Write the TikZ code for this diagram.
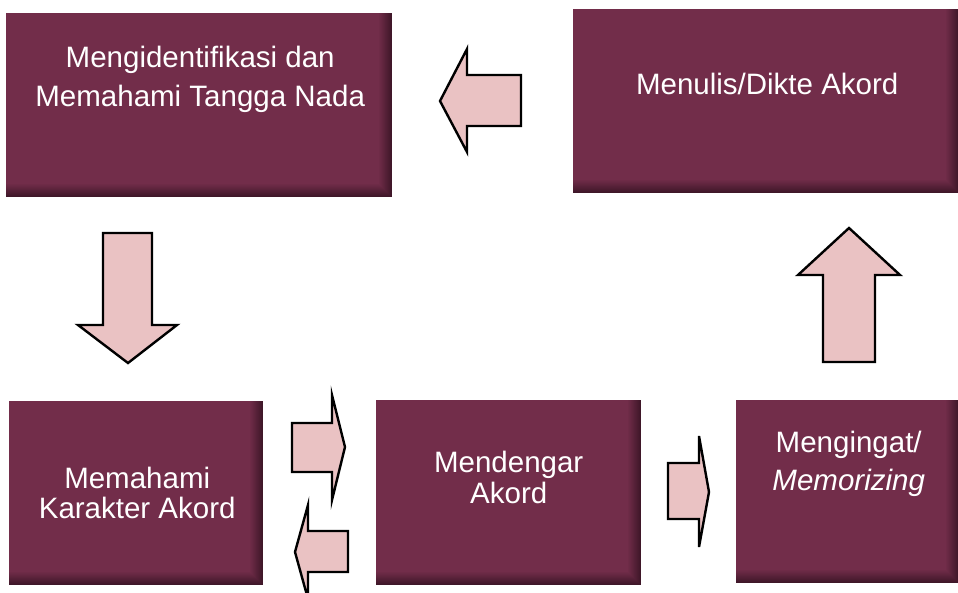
\documentclass[tikz,border=0pt]{standalone}
\usepackage{fontspec}
\setmainfont{Liberation Sans}
\usetikzlibrary{positioning,calc}

\definecolor{stagefill}{HTML}{722D4A}
\definecolor{stageshade}{HTML}{3B1526}
\definecolor{arrowfill}{HTML}{EAC2C3}

\begin{document}
\begin{tikzpicture}[
    x=1pt, y=-1pt,
    stage/.style={fill=stagefill, inner sep=0pt, anchor=north west,
        path picture={
            \foreach \w in {13,...,1} {
                \pgfmathtruncatemacro\p{(14-\w)*100/14}
                \fill[stageshade!\p!stagefill]
                    ([xshift=-\w pt]path picture bounding box.north east) rectangle (path picture bounding box.south east);
                \fill[stageshade!\p!stagefill]
                    ([yshift=\w pt]path picture bounding box.south west) rectangle (path picture bounding box.south east);
            }
        }},
    txt/.style={text=white, align=center, anchor=base, inner sep=0pt, font=\fontsize{29.5}{39}\selectfont},
    blk/.style={draw=black, line width=2.4pt, fill=arrowfill, line join=miter}
]
\useasboundingbox (0,0) rectangle (958,593);
\clip (0,0) rectangle (958,593);

% stages
\node[stage, minimum width=386pt, minimum height=184pt] (scale) at (6,13) {};
\node[stage, minimum width=386pt, minimum height=184pt] (dictation) at (573,9) {};
\node[stage, minimum width=254pt, minimum height=184pt] (character) at (9,401) {};
\node[stage, minimum width=265pt, minimum height=185pt] (listening) at (376,400) {};
\node[stage, minimum width=223pt, minimum height=183pt] (memorize) at (736,400) {};

% labels (anchored on the last line)
\node[txt] (scale-t) at ($(scale.north)+(1,94)$) {Mengidentifikasi dan\\Memahami Tangga Nada};
\node[txt] (dictation-t) at ($(dictation.north)+(1,86)$) {Menulis/Dikte Akord};
\node[txt, font=\fontsize{29.5}{30}\selectfont] (character-t) at ($(character.north)+(1,117)$) {Memahami\\Karakter Akord};
\node[txt, font=\fontsize{29.5}{31}\selectfont] (listening-t) at ($(listening.north)+(0,103)$) {Mendengar\\Akord};
\node[txt, font=\fontsize{29.5}{38}\selectfont] (memorize-t) at ($(memorize.north)+(1,90)$) {Mengingat/\\\textit{Memorizing}};

% block arrows
\draw[blk] (521,75) -- (467,75) -- (467,49) -- (440,101) -- (467,152) -- (467,126) -- (521,126) -- cycle;
\draw[blk] (103,233) -- (152,233) -- (152,325) -- (177,325) -- (128,363) -- (78,325) -- (103,325) -- cycle;
\draw[blk] (823,362) -- (823,275) -- (798,275) -- (849,228) -- (900,275) -- (875,275) -- (875,362) -- cycle;
\draw[blk] (292,423) -- (332,423) -- (332,395) -- (345,447) -- (332,500) -- (332,472) -- (292,472) -- cycle;
\draw[blk] (348,531) -- (308,531) -- (308,505) -- (295,552) -- (308,599) -- (308,572) -- (348,572) -- cycle;
\draw[blk] (668,463) -- (699,463) -- (699,436) -- (709,492) -- (699,547) -- (699,519) -- (668,519) -- cycle;
\end{tikzpicture}
\end{document}
